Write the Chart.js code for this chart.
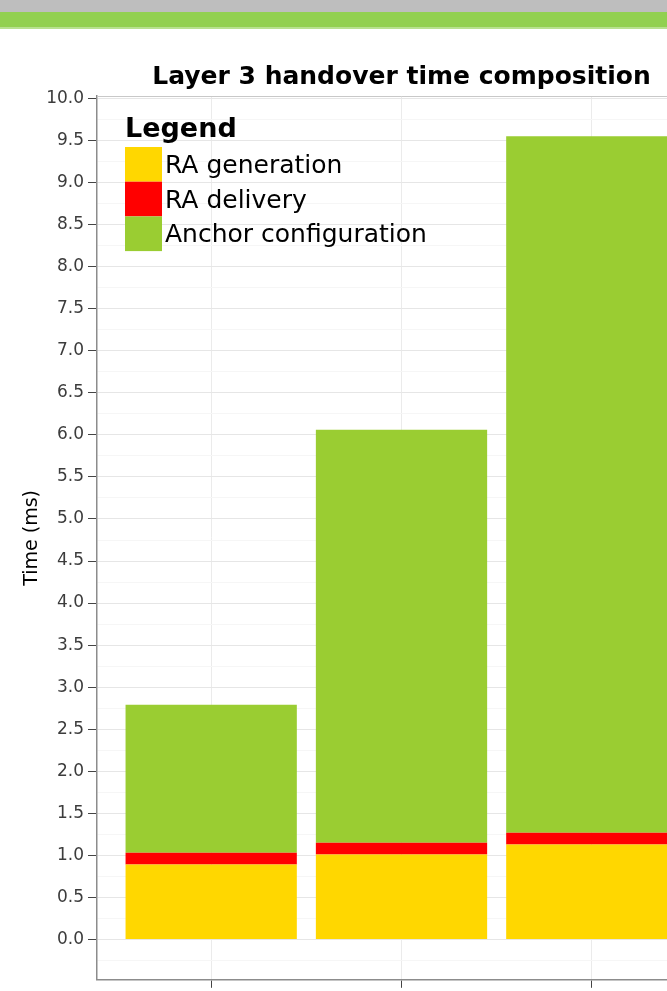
<!DOCTYPE html>
<html>
<head>
<meta charset="utf-8">
<script src="https://cdn.jsdelivr.net/npm/chart.js@4.4.0/dist/chart.umd.min.js"></script>
<style>
  html, body { margin: 0; padding: 0; background: #fff; width: 667px; height: 991px; overflow: hidden; }
  #topbar { height: 12px; background: #bebebe; }
  #greenbar { height: 15px; background: #92d050; border-bottom: 2px solid #b8e190; }
  #wrap { position: absolute; left: 0; top: 28px; width: 740px; height: 966px; }
</style>
</head>
<body>
<div id="topbar"></div>
<div id="greenbar"></div>
<div id="wrap"><canvas id="chart" width="740" height="966"></canvas></div>
<script>
// three bars, x positions 1..3 (labels are cut off in the picture)
const positions = [1, 2, 3];
const raGeneration = [0.89, 1.01, 1.13];
const raDelivery = [0.14, 0.14, 0.14];
const anchorConfiguration = [1.76, 4.91, 8.28];

const seriesLabels = ["RA generation", "RA delivery", "Anchor configuration"];
const seriesColors = ["#FFD700", "#FF0000", "#9ACD32"];

const yMajorTicks = [0.0, 0.5, 1.0, 1.5, 2.0, 2.5, 3.0, 3.5, 4.0, 4.5, 5.0,
                     5.5, 6.0, 6.5, 7.0, 7.5, 8.0, 8.5, 9.0, 9.5, 10.0];

const FONT = "DejaVu Sans";

function points(values) {
    return positions.map((x, i) => ({x: x, y: values[i]}));
}

// ggplot style legend drawn inside the panel
const insideLegend = {
    id: "insideLegend",
    afterDraw(chart) {
        const ctx = chart.ctx;
        const area = chart.chartArea;
        const x0 = area.left + 28;
        let y = area.top + 51;
        ctx.save();
        ctx.textBaseline = "alphabetic";
        ctx.fillStyle = "#000";
        ctx.font = "bold 27px '" + FONT + "'";
        ctx.fillText("Legend", x0, area.top + 41);
        ctx.font = "25px '" + FONT + "'";
        chart.data.datasets.forEach(ds => {
            ctx.fillStyle = ds.backgroundColor;
            ctx.fillRect(x0, y, 37, 34.7);
            ctx.fillStyle = "#000";
            ctx.fillText(ds.label, x0 + 40, y + 26);
            y += 34.7;
        });
        ctx.restore();
    }
};

// light top border of the panel
const panelTop = {
    id: "panelTop",
    beforeDatasetsDraw(chart) {
        const ctx = chart.ctx;
        const area = chart.chartArea;
        ctx.save();
        ctx.strokeStyle = "#c8c8c8";
        ctx.lineWidth = 1;
        ctx.beginPath();
        ctx.moveTo(area.left, area.top + 0.5);
        ctx.lineTo(area.right, area.top + 0.5);
        ctx.stroke();
        ctx.restore();
    }
};

const datasets = [raGeneration, raDelivery, anchorConfiguration].map((vals, i) => ({
    label: seriesLabels[i],
    data: points(vals),
    backgroundColor: seriesColors[i],
    borderWidth: 0,
    grouped: false,
    barPercentage: 0.9,
    categoryPercentage: 1.0
}));

new Chart(document.getElementById("chart"), {
    type: "bar",
    data: {datasets: datasets},
    plugins: [panelTop, insideLegend],
    options: {
        responsive: false,
        animation: false,
        layout: {padding: {left: 0, right: 34, top: 0, bottom: 0}},
        plugins: {
            legend: {display: false},
            tooltip: {enabled: false},
            title: {
                display: true,
                text: "Layer 3 handover time composition",
                fullSize: false,
                color: "#000",
                font: {family: FONT, size: 25, weight: "bold"},
                padding: {top: 34, bottom: 4}
            }
        },
        scales: {
            x: {
                type: "linear",
                offset: false,
                min: 0.4,
                max: 3.6,
                afterBuildTicks: s => { s.ticks = positions.map(v => ({value: v})); },
                afterFit: s => { s.height = 9; },
                ticks: {callback: () => "", padding: 0},
                grid: {offset: false, color: "#ebebeb", lineWidth: 1, tickLength: 8, tickColor: "#444"},
                border: {color: "#8c8c8c", width: 1.5}
            },
            y: {
                stacked: true,
                min: -0.48,
                max: 10.03,
                afterBuildTicks: s => {
                    const all = [];
                    yMajorTicks.forEach(v => { all.push({value: v - 0.25}); all.push({value: v}); });
                    s.ticks = all;
                },
                afterFit: s => { s.width = 97; },
                ticks: {
                    autoSkip: false,
                    padding: 4,
                    color: "#3c3c3c",
                    font: {family: FONT, size: 17},
                    callback: v => yMajorTicks.includes(v) ? v.toFixed(1) : ""
                },
                grid: {
                    color: ctx => yMajorTicks.includes(ctx.tick.value) ? "#e6e6e6" : "#f6f6f6",
                    tickColor: ctx => yMajorTicks.includes(ctx.tick.value) ? "#444" : "rgba(0,0,0,0)",
                    tickLength: 9,
                    lineWidth: 1
                },
                border: {color: "#8c8c8c", width: 1.5},
                title: {
                    display: true,
                    text: "Time (ms)",
                    color: "#000",
                    font: {family: FONT, size: 19},
                    padding: {top: 21, bottom: 0}
                }
            }
        }
    }
});
</script>
</body>
</html>
